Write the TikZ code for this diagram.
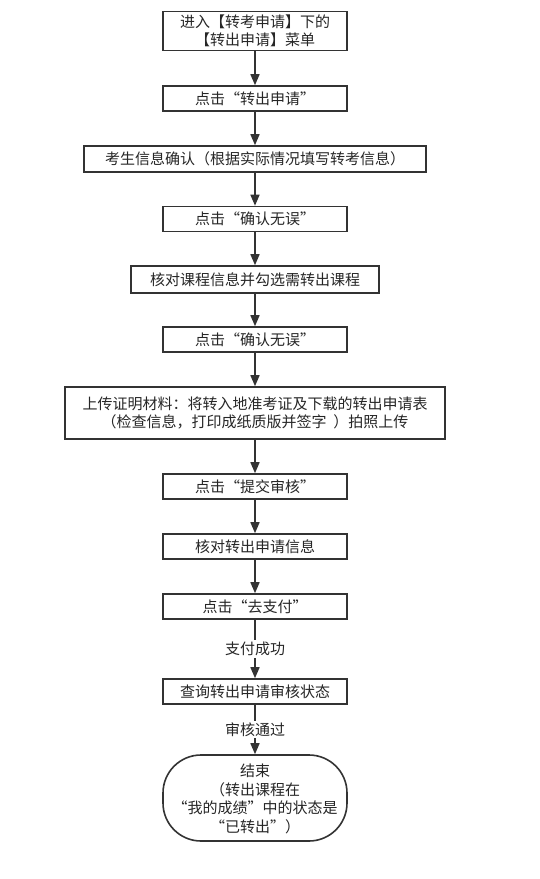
\documentclass[tikz,border=0pt]{standalone}
\usepackage{fontspec}
\newfontfamily\cjk{Noto Sans CJK SC}
\usetikzlibrary{arrows.meta,positioning,shapes}
\definecolor{lcol}{HTML}{333333}
\tikzset{
    %Define standard arrow tip
    >={Triangle[length=11pt,width=9pt]},
    %Define style for boxes
    sbox/.style={
           rectangle,
           draw=lcol, line width=1.6pt,
           inner sep=0pt,
           minimum width=184pt,
           minimum height=25pt,
           font=\cjk\fontsize{15}{18.5}\selectfont,
           text=black!85,
           align=center},
    endbox/.style={
           sbox,
           rounded corners=38pt,
           minimum height=86pt},
    % Define arrow style
    arr/.style={
           ->,
           draw=lcol,
           line width=1.6pt},
    lbl/.style={
           fill=white,
           inner sep=2pt,
           font=\cjk\fontsize{15}{18.5}\selectfont,
           text=black!85}
}
\begin{document}
\begin{tikzpicture}[x=1pt, y=-1pt]
    % FRAME
    \path[fill=white, use as bounding box] (0,0) rectangle (540,879);

    \node[sbox, minimum height=39pt] at (255,31) (enter) {进入【转考申请】下的\\【转出申请】菜单};
    \node[sbox] at (255,98.5) (clkapply) {点击“转出申请”};
    \node[sbox, minimum width=342pt, minimum height=26pt] at (255,159) (confirminfo) {考生信息确认（根据实际情况填写转考信息）};
    \node[sbox] at (255,219) (clkok) {点击“确认无误”};
    \node[sbox, minimum width=248pt, minimum height=27pt] at (255,279.5) (course) {核对课程信息并勾选需转出课程};
    \node[sbox] at (255,339.5) (clkok2) {点击“确认无误”};
    \node[sbox, minimum width=380pt, minimum height=52pt] at (255,413) (upload) {上传证明材料：将转入地准考证及下载的转出申请表\\（检查信息，打印成纸质版并签字\ \ ）拍照上传};
    \node[sbox] at (255,486.5) (submit) {点击“提交审核”};
    \node[sbox] at (255,546.5) (check) {核对转出申请信息};
    \node[sbox] at (255,606.5) (pay) {点击“去支付”};
    \node[sbox] at (255,691.5) (status) {查询转出申请审核状态};
    \node[endbox, text depth=0pt] at (255,798) (finish) {结束\\（转出课程在\\“我的成绩”中的状态是\\“已转出”）};

    % CONNECTORS
    \draw[arr] (enter) -- (clkapply);
    \draw[arr] (clkapply) -- (confirminfo);
    \draw[arr] (confirminfo) -- (clkok);
    \draw[arr] (clkok) -- (course);
    \draw[arr] (course) -- (clkok2);
    \draw[arr] (clkok2) -- (upload);
    \draw[arr] (upload) -- (submit);
    \draw[arr] (submit) -- (check);
    \draw[arr] (check) -- (pay);
    \draw[arr] (pay) -- node[lbl] {支付成功} (status);
    \draw[arr] (status) -- node[lbl] {审核通过} (finish);
\end{tikzpicture}
\end{document}
